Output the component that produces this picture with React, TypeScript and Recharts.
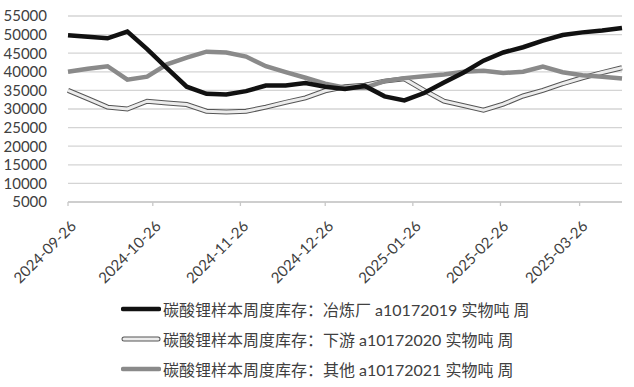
import React from 'react';
import { LineChart, Line, XAxis, YAxis, CartesianGrid } from 'recharts';

const START = '2024-09-26';
const DAY = 86400000;

// weekly samples (Thursdays), 2024-09-26 .. 2025-04-10
const smelter = [
  49800, 49400, 49000, 50800, 46100, 41000, 36000, 34100, 33900, 34800,
  36300, 36300, 37000, 36000, 35400, 36200, 33400, 32300, 34300, 37100,
  39800, 43000, 45200, 46600, 48400, 49900, 50600, 51100, 51800,
];
const downstream = [
  35000, 32800, 30500, 30000, 32100, 31600, 31200, 29400, 29200, 29400,
  30500, 31800, 33000, 34900, 36000, 36400, 37500, 38100, 35000, 32100,
  30900, 29700, 31300, 33500, 35000, 36800, 38400, 39800, 41100,
];
const others = [
  40000, 40800, 41500, 37900, 38700, 42000, 43800, 45400, 45200, 44100,
  41500, 39900, 38400, 36800, 35700, 35700, 37500, 38300, 38800, 39300,
  40000, 40300, 39700, 40000, 41400, 39900, 39100, 38700, 38200,
];

const tickLabels = ['2024-09-26', '2024-10-26', '2024-11-26', '2024-12-26', '2025-01-26', '2025-02-26', '2025-03-26'];
const yTicks = [5000, 10000, 15000, 20000, 25000, 30000, 35000, 40000, 45000, 50000, 55000];

const legendItems = [
  { name: '碳酸锂样本周度库存：冶炼厂 a10172019 实物吨 周', kind: 'black' },
  { name: '碳酸锂样本周度库存：下游 a10172020 实物吨 周', kind: 'white' },
  { name: '碳酸锂样本周度库存：其他 a10172021 实物吨 周', kind: 'gray' },
];

const t0 = Date.parse(START);
const dayOf = (s: string) => Math.round((Date.parse(s) - t0) / DAY);
const labelOf = (d: number) => new Date(t0 + d * DAY).toISOString().slice(0, 10);

const data = smelter.map((v, i) => ({
  day: i * 7,
  smelter: v,
  downstream: downstream[i],
  others: others[i],
}));

const FONT = 'Lato, "Noto Sans CJK SC", sans-serif';
const TEXT = '#404040';

const DateTick = (props: any) => {
  const { x, y, payload } = props;
  return (
    <g transform={`translate(${x + 2},${y + 12})`}>
      <text x={0} y={0} dy={10} textAnchor="end" transform="rotate(-45)" fill={TEXT} fontSize={15} fontFamily={FONT}>
        {labelOf(payload.value)}
      </text>
    </g>
  );
};

const Swatch = ({ kind }: { kind: string }) => {
  if (kind === 'white') {
    return (
      <svg width={40} height={8} style={{ display: 'block' }}>
        <line x1={3} y1={4} x2={37} y2={4} stroke="#555" strokeWidth={5} strokeLinecap="round" />
        <line x1={3} y1={4} x2={37} y2={4} stroke="#ececec" strokeWidth={3} strokeLinecap="round" />
      </svg>
    );
  }
  return (
    <svg width={40} height={8} style={{ display: 'block' }}>
      <line x1={2} y1={4} x2={38} y2={4} stroke={kind === 'black' ? '#111' : '#8a8a8a'} strokeWidth={4.5} strokeLinecap="round" />
    </svg>
  );
};

export default function App() {
  return (
    <div style={{ position: 'absolute', left: 0, top: 0, width: 634, height: 387, background: '#fff', fontFamily: FONT }}>
      <LineChart width={634} height={290} data={data} margin={{ top: 16, right: 12, left: 0, bottom: 0 }}>
        <CartesianGrid horizontal vertical={false} stroke="#d4d4d4" strokeWidth={1.3} />
        <XAxis
          dataKey="day"
          type="number"
          domain={[0, 196]}
          ticks={tickLabels.map(dayOf)}
          interval={0}
          height={88}
          stroke="#c8c8c8"
          strokeWidth={1.3}
          tickSize={4}
          tick={<DateTick />}
        />
        <YAxis
          domain={[5000, 55000]}
          ticks={yTicks}
          interval={0}
          width={68}
          axisLine={false}
          tickLine={false}
          tickMargin={15}
          tick={{ fill: TEXT, fontSize: 15, fontFamily: FONT }}
        />
        <Line type="linear" dataKey="downstream" stroke="#555" strokeWidth={5} dot={false} isAnimationActive={false} />
        <Line type="linear" dataKey="downstream" stroke="#ececec" strokeWidth={3} dot={false} isAnimationActive={false} />
        <Line type="linear" dataKey="others" stroke="#8a8a8a" strokeWidth={4.5} dot={false} isAnimationActive={false} />
        <Line type="linear" dataKey="smelter" stroke="#111" strokeWidth={4.5} dot={false} isAnimationActive={false} />
      </LineChart>
      <div style={{ position: 'absolute', left: 121, top: 294 }}>
        {legendItems.map((it) => (
          <div key={it.name} style={{ display: 'flex', alignItems: 'center', height: 30, color: TEXT, fontSize: 16, whiteSpace: 'nowrap' }}>
            <Swatch kind={it.kind} />
            <span style={{ marginLeft: 2 }}>{it.name}</span>
          </div>
        ))}
      </div>
    </div>
  );
}
